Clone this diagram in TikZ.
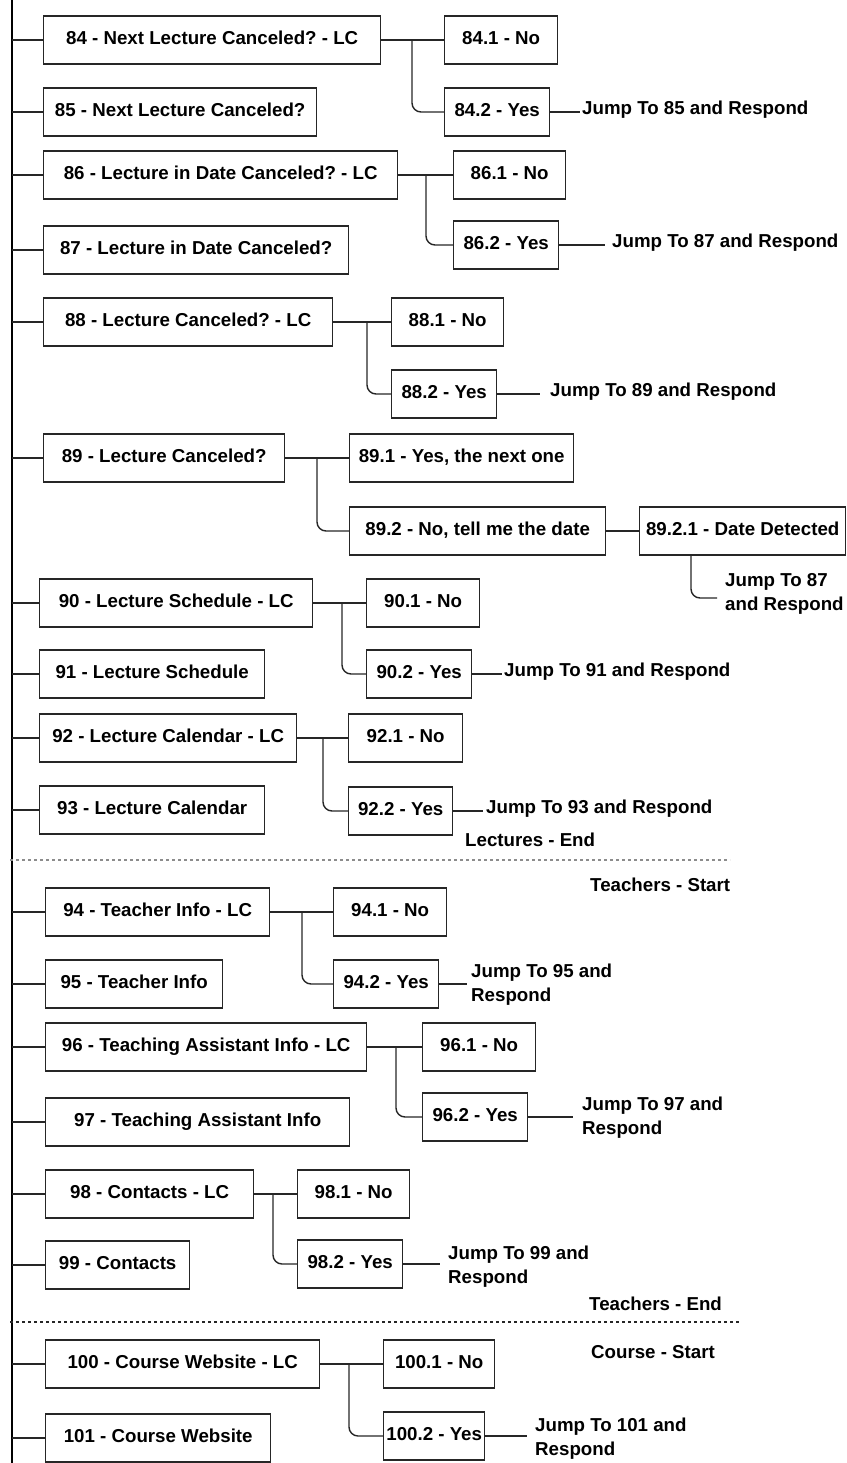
\documentclass[tikz,border=0pt]{standalone}
\usepackage{fontspec}
\setmainfont{Liberation Sans}
\usetikzlibrary{calc}
\frenchspacing
\tikzset{
  flowbox/.style={
    draw=black!85,
    line width=1.4pt,
    anchor=west,
    inner sep=0pt,
    minimum height=48pt,
    text height=13.4pt,
    text depth=4pt
  },
  jumptext/.style={
    anchor=west,
    inner sep=0pt,
    align=left
  },
  sectiontext/.style={
    anchor=west,
    inner sep=0pt
  },
  link/.style={
    draw=black!85,
    line width=1.4pt,
    rounded corners=9pt
  },
  every picture/.style={
    x=1pt, y=-1pt,
    font=\bfseries\fontsize{18.7}{24}\selectfont
  }
}

\begin{document}
\begin{tikzpicture}
  \useasboundingbox (0,0) rectangle (846,1463);
  \coordinate (trunk) at (12,0);
  \coordinate (trunkend) at (12,1463);

  % lectures
  \node[flowbox, minimum width=337pt] (q84) at (43,40) {84 - Next Lecture Canceled? - LC};
  \node[flowbox, minimum width=113pt] (n84) at (444,40) {84.1 - No};
  \node[flowbox, minimum width=105pt] (y84) at (444,112) {84.2 - Yes};
  \node[jumptext] (jump84) at (582,110) {Jump To 85 and Respond};
  \node[flowbox, minimum width=273pt] (q85) at (43,112) {85 - Next Lecture Canceled?};

  \node[flowbox, minimum width=354pt] (q86) at (43,175) {86 - Lecture in Date Canceled? - LC};
  \node[flowbox, minimum width=112pt] (n86) at (453,175) {86.1 - No};
  \node[flowbox, minimum width=105pt] (y86) at (453,245) {86.2 - Yes};
  \node[jumptext] (jump86) at (612,243) {Jump To 87 and Respond};
  \node[flowbox, minimum width=305pt] (q87) at (43,250) {87 - Lecture in Date Canceled?};

  \node[flowbox, minimum width=289pt] (q88) at (43,322) {88 - Lecture Canceled? - LC};
  \node[flowbox, minimum width=112pt] (n88) at (391,322) {88.1 - No};
  \node[flowbox, minimum width=105pt] (y88) at (391,394) {88.2 - Yes};
  \node[jumptext] (jump88) at (550,392) {Jump To 89 and Respond};

  \node[flowbox, minimum width=241pt] (q89) at (43,458) {89 - Lecture Canceled?};
  \node[flowbox, minimum width=224pt] (n89) at (349,458) {89.1 - Yes, the next one};
  \node[flowbox, minimum width=256pt] (y89) at (349,531) {89.2 - No, tell me the date};
  \node[flowbox, minimum width=206pt] (d89) at (639,531) {89.2.1 - Date Detected};
  \node[jumptext] (jump89) at (725,594) {Jump To 87\\and Respond};

  \node[flowbox, minimum width=273pt] (q90) at (39,603) {90 - Lecture Schedule - LC};
  \node[flowbox, minimum width=113pt] (n90) at (366,603) {90.1 - No};
  \node[flowbox, minimum width=105pt] (y90) at (366,674) {90.2 - Yes};
  \node[jumptext] (jump90) at (504,672) {Jump To 91 and Respond};
  \node[flowbox, minimum width=225pt] (q91) at (39,674) {91 - Lecture Schedule};

  \node[flowbox, minimum width=257pt] (q92) at (39,738) {92 - Lecture Calendar - LC};
  \node[flowbox, minimum width=114pt] (n92) at (348,738) {92.1 - No};
  \node[flowbox, minimum width=104pt] (y92) at (348,811) {92.2 - Yes};
  \node[jumptext] (jump92) at (486,809) {Jump To 93 and Respond};
  \node[flowbox, minimum width=225pt] (q93) at (39,810) {93 - Lecture Calendar};
  \node[sectiontext] (lecend) at (465,840) {Lectures - End};

  % teachers
  \node[sectiontext] (teachstart) at (590,885) {Teachers - Start};
  \node[flowbox, minimum width=224pt] (q94) at (45,912) {94 - Teacher Info - LC};
  \node[flowbox, minimum width=113pt] (n94) at (333,912) {94.1 - No};
  \node[flowbox, minimum width=105pt] (y94) at (333,984) {94.2 - Yes};
  \node[jumptext] (jump94) at (471,985) {Jump To 95 and\\Respond};
  \node[flowbox, minimum width=177pt] (q95) at (45,984) {95 - Teacher Info};

  \node[flowbox, minimum width=321pt] (q96) at (45,1047) {96 - Teaching Assistant Info - LC};
  \node[flowbox, minimum width=113pt] (n96) at (422,1047) {96.1 - No};
  \node[flowbox, minimum width=105pt] (y96) at (422,1117) {96.2 - Yes};
  \node[jumptext] (jump96) at (582,1118) {Jump To 97 and\\Respond};
  \node[flowbox, minimum width=304pt] (q97) at (45,1122) {97 - Teaching Assistant Info};

  \node[flowbox, minimum width=208pt] (q98) at (45,1194) {98 - Contacts - LC};
  \node[flowbox, minimum width=112pt] (n98) at (297,1194) {98.1 - No};
  \node[flowbox, minimum width=105pt] (y98) at (297,1264) {98.2 - Yes};
  \node[jumptext] (jump98) at (448,1267) {Jump To 99 and\\Respond};
  \node[flowbox, minimum width=144pt] (q99) at (45,1265) {99 - Contacts};
  \node[sectiontext] (teachend) at (589,1304) {Teachers - End};

  % course
  \node[sectiontext] (coursestart) at (591,1352) {Course - Start};
  \node[flowbox, minimum width=274pt] (q100) at (45,1364) {100 - Course Website - LC};
  \node[flowbox, minimum width=111pt] (n100) at (383,1364) {100.1 - No};
  \node[flowbox, minimum width=101pt] (y100) at (383,1436) {100.2 - Yes};
  \node[jumptext] (jump100) at (535,1439) {Jump To 101 and\\Respond};
  \node[flowbox, minimum width=225pt] (q101) at (45,1438) {101 - Course Website};

  % trunk and stubs
  \draw[link, draw=black] (trunk) -- (trunkend);
  \foreach \n in {84,...,101}
    \draw[link] (q\n.west -| trunk) -- (q\n.west);

  % yes/no forks
  \foreach \n/\f in {84/412, 86/426, 88/367, 89/317, 90/342, 92/323, 94/302, 96/396, 98/273, 100/349} {
    \draw[link] (q\n.east) -- (n\n.west);
    \draw[link] (q\n.east -| \f,0) |- (y\n.west);
  }

  % jumps
  \foreach \n/\g in {84/2, 86/7, 88/10, 90/2, 92/3, 94/4, 96/9, 98/8, 100/8}
    \draw[link, shorten >=\g pt] (y\n.east) -- (y\n.east -| jump\n.west);
  \draw[link] (y89) -- (d89);
  \draw[link] ([xshift=52pt]d89.south west) |- ([xshift=-8pt,yshift=-4pt]jump89.west);

  % section separators
  \draw[black!45, line width=1.4pt, dash pattern=on 3pt off 3pt] (10,860) -- (730,860);
  \draw[black!85, line width=1.4pt, dash pattern=on 3pt off 3pt] (10,1322) -- (740,1322);
\end{tikzpicture}
\end{document}
